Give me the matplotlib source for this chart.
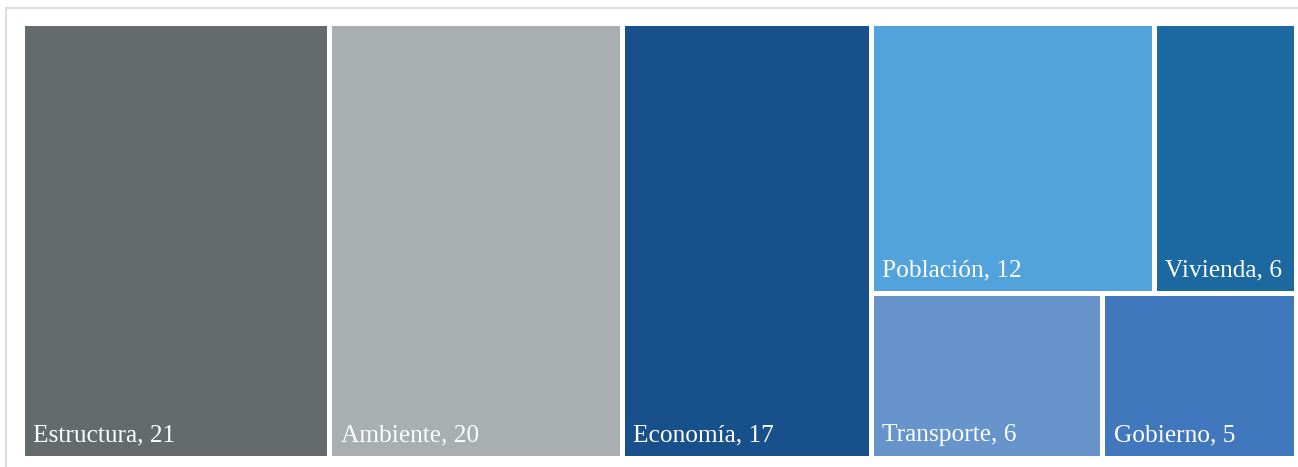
import matplotlib.pyplot as plt
from matplotlib.patches import Rectangle

# Data
labels = ["Estructura", "Ambiente", "Economía", "Población", "Vivienda", "Transporte", "Gobierno"]
values = [21, 20, 17, 12, 6, 6, 5]
colors = ["#656a6d", "#a9aeb1", "#17508a", "#52a3db", "#1c69a1", "#6694cb", "#4178bd"]

W, H = 1298, 467
fig = plt.figure(figsize=(W / 100, H / 100), dpi=100)

# light frame around the chart (runs off the right and bottom edges)
fig.patches.append(Rectangle((6 / W, -0.1), 1.2, (H - 8) / H + 0.1, transform=fig.transFigure,
                             fill=False, edgecolor="#dcdfe0", linewidth=1.5))

gap = 5
x0px, x1px, y0px, y1px = 24 - gap / 2, 1293 + gap / 2, 26 - gap / 2, 455 + gap / 2
ax = fig.add_axes([x0px / W, (H - y1px) / H, (x1px - x0px) / W, (y1px - y0px) / H])
total = sum(values)
ax.set_xlim(0, total)
ax.set_ylim(0, 1)
ax.axis("off")

# layout: first three as full-height columns, the rest as a 2x2 block
rects = []
x = 0
for v in values[:3]:
    rects.append((x, 0, v, 1))
    x += v
rest = values[3:]
block_w = total - x
top, bottom = rest[:2], rest[2:]
h_top = sum(top) / sum(rest)
xx = x
for v in top:
    w = block_w * v / sum(top)
    rects.append((xx, 1 - h_top, w, h_top))
    xx += w
xx = x
for v in bottom:
    w = block_w * v / sum(bottom)
    rects.append((xx, 0, w, 1 - h_top))
    xx += w

for (rx, ry, rw, rh), lab, v, c in zip(rects, labels, values, colors):
    ax.add_patch(Rectangle((rx, ry), rw, rh, facecolor=c, edgecolor="white",
                           linewidth=gap * 72 / 100))
    ax.annotate(f"{lab}, {v}", xy=(rx, ry), xytext=(gap / 2 + 9, gap / 2 + 14),
                textcoords="offset pixels", ha="left", va="baseline",
                fontsize=18.3, color="white", family="Liberation Serif")

fig.savefig("out.png", dpi=100)
